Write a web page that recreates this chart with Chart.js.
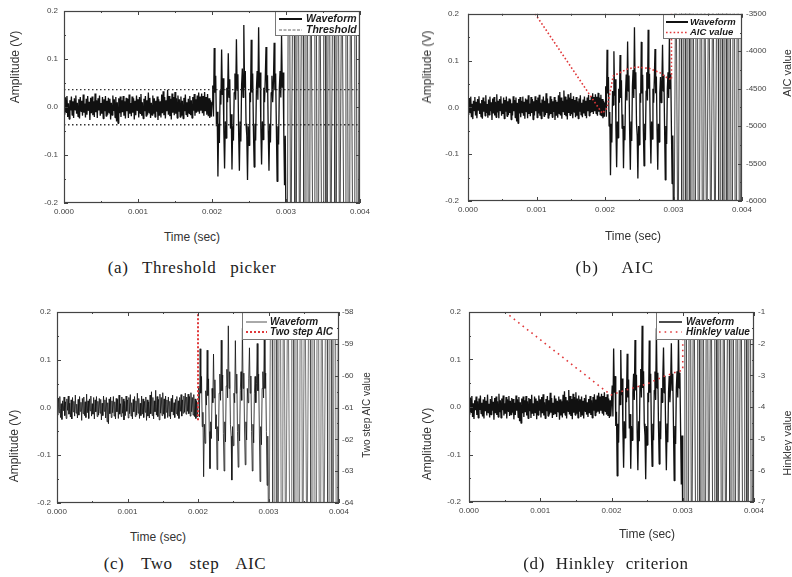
<!DOCTYPE html>
<html><head><meta charset="utf-8">
<script src="https://cdn.jsdelivr.net/npm/chart.js@4.4.1/dist/chart.umd.min.js"></script>
<style>
html,body{margin:0;padding:0;background:#fff;}
#wrap{position:relative;width:792px;height:577px;overflow:hidden;background:#fff;}
canvas{position:absolute;}
.t{position:absolute;white-space:nowrap;font-family:"Liberation Sans",Arial,sans-serif;font-size:12px;color:#333;transform:translate(-50%,-50%);line-height:1;}
.v{transform:translate(-50%,-50%) rotate(-90deg);}
.cap{position:absolute;white-space:nowrap;font-family:"Liberation Serif","Times New Roman",serif;font-size:17px;color:#222;transform:translate(-50%,-50%);word-spacing:5px;letter-spacing:0.6px;line-height:1;}
</style></head>
<body><div id="wrap">
<canvas id="ca" width="396" height="230" style="left:0;top:0"></canvas>
<canvas id="cb" width="396" height="230" style="left:396px;top:0"></canvas>
<canvas id="cc" width="396" height="240" style="left:0;top:290px"></canvas>
<canvas id="cd" width="396" height="240" style="left:396px;top:290px"></canvas>

<div class="t v" style="left:15px;top:67px">Amplitude (V)</div>
<div class="t" style="left:192px;top:237px">Time (sec)</div>
<div class="cap" style="left:192px;top:267px;word-spacing:9px">(a) Threshold picker</div>

<div class="t v" style="left:427px;top:67px">Amplitude (V)</div>
<div class="t" style="left:633px;top:236px">Time (sec)</div>
<div class="t v" style="left:787px;top:73px;font-size:11px">AIC value</div>
<div class="cap" style="left:615px;top:267px;word-spacing:18px;letter-spacing:1.2px">(b) AIC</div>

<div class="t v" style="left:14px;top:446px">Amplitude (V)</div>
<div class="t" style="left:158px;top:537px">Time (sec)</div>
<div class="t v" style="left:367px;top:415px;font-size:10px">Two step AIC value</div>
<div class="cap" style="left:185px;top:563px;word-spacing:12px">(c) Two step AIC</div>

<div class="t v" style="left:427px;top:444px">Amplitude (V)</div>
<div class="t" style="left:647px;top:534px">Time (sec)</div>
<div class="t v" style="left:787px;top:443px;font-size:11px">Hinkley value</div>
<div class="cap" style="left:606px;top:563px;word-spacing:6px">(d) Hinkley criterion</div>
</div>
<script>
// ---------------- data ----------------
const sampleStart = 0;          // s
const sampleInterval = 0.00001; // s
// pre-event noise, 0.0000 - 0.00199 s
const noiseAmp = [
 0.006,-0.016,0.020,-0.011,0.023,-0.021,0.008,-0.025,0.014,-0.007,0.022,-0.017,0.012,-0.023,0.018,-0.006,0.024,-0.014,0.009,-0.020,
 0.016,-0.024,0.021,-0.009,0.013,-0.018,0.026,-0.012,0.007,-0.022,0.017,-0.016,0.023,-0.008,0.011,-0.027,0.019,-0.013,0.022,-0.017,
 0.012,-0.021,0.028,-0.011,0.014,-0.023,0.018,-0.007,0.024,-0.018,0.008,-0.014,0.021,-0.024,0.016,-0.009,0.023,-0.019,0.013,-0.016,
 0.019,-0.012,0.017,-0.026,0.009,-0.017,0.024,-0.008,0.016,-0.022,0.021,-0.030,0.010,-0.034,0.018,-0.013,0.022,-0.021,0.014,-0.011,
 0.023,-0.018,0.012,-0.024,0.019,-0.009,0.017,-0.023,0.026,-0.014,0.008,-0.019,0.022,-0.012,0.018,-0.026,0.013,-0.017,0.024,-0.008,
 0.016,-0.022,0.021,-0.013,0.027,-0.018,0.010,-0.024,0.017,-0.009,0.023,-0.019,0.014,-0.016,0.030,-0.012,0.019,-0.023,0.009,-0.017,
 0.024,-0.014,0.018,-0.021,0.013,-0.010,0.022,-0.027,0.016,-0.018,0.012,-0.022,0.026,-0.013,0.033,-0.017,0.021,-0.024,0.014,-0.009,
 0.036,-0.016,0.023,-0.019,0.017,-0.026,0.028,-0.012,0.021,-0.017,0.031,-0.014,0.018,-0.023,0.024,-0.010,0.016,-0.021,0.022,-0.018,
 0.013,-0.024,0.019,-0.009,0.026,-0.016,0.010,-0.021,0.017,-0.013,0.023,-0.017,0.014,-0.023,0.021,-0.008,0.027,-0.018,0.016,-0.012,
 0.024,-0.010,0.030,-0.014,0.022,-0.008,0.028,-0.013,0.023,-0.018,0.031,-0.009,0.021,-0.016,0.027,-0.019,0.018,-0.023,0.014,-0.020
];
// burst, 0.00200 - 0.00299 s
const burstAmp = [
 0.010,0.045,-0.020,0.123,0.030,0.065,-0.040,-0.010,-0.145,-0.035,
 -0.075,0.035,0.005,0.120,0.025,0.060,-0.050,-0.128,-0.030,-0.065,
 0.040,0.010,0.112,0.020,0.058,-0.045,-0.015,-0.130,-0.040,-0.070,
 0.030,0.070,0.015,0.141,0.035,0.068,-0.055,-0.133,-0.030,-0.072,
 0.045,0.080,0.020,0.171,0.040,0.075,-0.035,-0.060,-0.152,-0.040,
 -0.080,0.030,0.010,0.140,0.030,0.070,-0.050,-0.125,-0.035,-0.070,
 0.035,0.075,0.015,0.166,0.040,0.072,-0.045,-0.120,-0.030,-0.068,
 0.040,0.010,0.060,0.125,0.030,0.066,-0.050,-0.133,-0.035,-0.074,
 0.030,0.065,0.010,0.050,0.134,0.035,0.070,-0.045,-0.155,-0.040,
 -0.078,0.040,0.075,0.020,0.150,0.040,0.072,-0.050,-0.163,-0.060
];
// clipped (over-range) part, 0.00300 - 0.00400 s
const clippedAmp = [
 -0.25,-0.25,-0.25,
 0.25,0.25,0.25,-0.25,-0.25,-0.25, 0.25,0.25,0.25,-0.25,-0.25,-0.25,
 0.25,0.25,0.25,-0.25,-0.25,-0.25, 0.25,0.25,0.25,-0.25,-0.25,-0.25,
 0.25,0.25,0.25,-0.25,-0.25,-0.25, 0.25,0.25,0.25,-0.25,-0.25,-0.25,
 0.25,0.25,0.25,-0.25,-0.25,-0.25, 0.25,0.25,0.25,-0.25,-0.25,-0.25,
 0.25,0.25,0.25,-0.25,-0.25,-0.25, 0.25,0.25,0.25,-0.25,-0.25,-0.25,
 0.25,0.25,0.25,-0.25,-0.25,-0.25, 0.25,0.25,0.25,-0.25,-0.25,-0.25,
 0.25,0.25,0.25,-0.25,-0.25,-0.25, 0.25,0.25,0.25,-0.25,-0.25,-0.25,
 0.25,0.25,0.25,-0.25,-0.25,-0.25, 0.25,0.25,0.25,-0.25,-0.25,-0.25,
 0.25,0.25
];
const clipStart = 0.003; // s, start of over-range part
const thresholdLevels = [0.036, -0.037];
const aicTime  = [0.00098, 0.00196, 0.00203, 0.00212, 0.00232, 0.00246, 0.00265, 0.00280, 0.00290, 0.00297, 0.00297];
const aicValue = [-3500, -4830, -4760, -4330, -4240, -4210, -4230, -4285, -4350, -4380, -3450];
const twoStepTime  = [0.002, 0.002];
const twoStepValue = [-61.4, -58];
const hinkleyTime  = [0.000505, 0.00199, 0.00221, 0.00250, 0.00273, 0.00292, 0.00300, 0.00300];
const hinkleyValue = [-1.0, -3.62, -3.46, -3.27, -3.04, -2.885, -2.84, -1.0];

// ---------------- helpers ----------------
const waveAmp = noiseAmp.concat(burstAmp, clippedAmp);
function wavePoints(){ return waveAmp.map((v,i)=>({x: sampleStart + i*sampleInterval, y: v})); }
function pairs(xs, ys){ return xs.map((x,i)=>({x, y: ys[i]})); }

Chart.defaults.font.family = '"Liberation Sans", Arial, sans-serif';
const tickFont = {size: 8};
const tickColor = '#444';
const RED = '#e0383a';

const originFrame = {
  id: 'originFrame',
  afterDatasetsDraw(chart, args, o) {
    const ctx = chart.ctx, a = chart.chartArea;
    ctx.save();
    if (o.legend) {
      const L = o.legend;
      const x0 = Math.round(a.right - L.width), y0 = Math.round(a.top);
      ctx.fillStyle = '#fff';
      ctx.fillRect(x0, y0, L.width, L.height);
      ctx.strokeStyle = '#777'; ctx.lineWidth = 1;
      ctx.strokeRect(x0 + 0.5, y0 + 0.5, L.width - 1, L.height - 1);
      ctx.font = 'italic bold ' + L.fontSize + 'px "Liberation Sans", Arial, sans-serif';
      ctx.textBaseline = 'middle'; ctx.textAlign = 'left';
      let row = 0;
      chart.data.datasets.forEach(ds => {
        if (!ds.inLegend) return;
        const y = y0 + L.rowY[row];
        ctx.save();
        ctx.strokeStyle = ds.legendColor || ds.borderColor;
        ctx.lineWidth = ds.legendWidth || ds.borderWidth;
        ctx.setLineDash(ds.legendDash || ds.borderDash || []);
        ctx.beginPath(); ctx.moveTo(x0 + L.lineX[0], y); ctx.lineTo(x0 + L.lineX[1], y); ctx.stroke();
        ctx.restore();
        ctx.fillStyle = '#1a1a1a';
        ctx.fillText(ds.label, x0 + L.textX, y);
        row++;
      });
    }
    // frame
    ctx.strokeStyle = '#444'; ctx.lineWidth = 1.2;
    ctx.strokeRect(Math.round(a.left)+0.5, Math.round(a.top)+0.5, Math.round(a.right-a.left)-1, Math.round(a.bottom-a.top)-1);
    // inward ticks, major + minor
    ctx.lineWidth = 1;
    const marks = (scale) => {
      const major = scale.ticks.map(t => t.value);
      const step = major[1] - major[0];
      const out = [];
      major.forEach((v, i) => { out.push([scale.getPixelForValue(v), 4]); if (i < major.length - 1) out.push([scale.getPixelForValue(v + step/2), 2]); });
      return out;
    };
    const xs = chart.scales.x, yl = chart.scales.y, yr = chart.scales.y2 || chart.scales.y;
    ctx.beginPath();
    marks(xs).forEach(([p, l]) => { const px = Math.round(p)+0.5; ctx.moveTo(px, a.bottom); ctx.lineTo(px, a.bottom - l); ctx.moveTo(px, a.top); ctx.lineTo(px, a.top + l); });
    marks(yl).forEach(([p, l]) => { const py = Math.round(p)+0.5; ctx.moveTo(a.left, py); ctx.lineTo(a.left + l, py); });
    marks(yr).forEach(([p, l]) => { const py = Math.round(p)+0.5; ctx.moveTo(a.right, py); ctx.lineTo(a.right - l, py); });
    ctx.stroke();
    ctx.restore();
  }
};

function makeChart(id, c) {
  const scales = {
    x: { type: 'linear', min: 0, max: 0.004,
         afterFit: s => { s.height = 20; },
         ticks: { stepSize: 0.001, padding: 4, font: tickFont, color: tickColor, maxRotation: 0, autoSkip: false, callback: v => v.toFixed(3) },
         grid: { display: false, drawTicks: false }, border: { display: false } },
    y: { type: 'linear', position: 'left', min: -0.2, max: 0.2,
         afterFit: s => { s.width = c.yl; },
         ticks: { stepSize: 0.1, padding: c.ylPad, font: tickFont, color: tickColor, callback: v => v.toFixed(1) },
         grid: { display: false, drawTicks: false }, border: { display: false } }
  };
  if (c.y2) {
    scales.y2 = { type: 'linear', position: 'right', min: c.y2.min, max: c.y2.max,
         afterFit: s => { s.width = c.yr; },
         ticks: { stepSize: c.y2.step, padding: c.y2.pad, font: tickFont, color: tickColor, callback: v => String(v) },
         grid: { display: false, drawTicks: false }, border: { display: false } };
  }
  return new Chart(document.getElementById(id), {
    type: 'line',
    data: { datasets: c.datasets },
    options: {
      responsive: false, animation: false, events: [],
      layout: { padding: c.pad },
      elements: { point: { radius: 0 }, line: { tension: 0, borderJoinStyle: 'bevel' } },
      scales,
      plugins: { legend: { display: false }, tooltip: { enabled: false }, originFrame: { legend: c.legend } }
    },
    plugins: [originFrame]
  });
}

function waveDs(width, clipWidth, lw, lc) {
  return { label: 'Waveform', inLegend: true, data: wavePoints(), borderColor: '#111', borderWidth: width,
           segment: { borderWidth: s => (s.p0.parsed.x >= clipStart + sampleInterval ? clipWidth : undefined),
                      borderColor: s => (s.p0.parsed.x >= clipStart + sampleInterval ? '#333' : undefined) },
           legendWidth: lw, legendColor: lc, yAxisID: 'y', order: 1 };
}

// (a) Threshold picker
makeChart('ca', {
  pad: { top: 11, right: 36, bottom: 7, left: 0 }, yl: 64, ylPad: 6,
  legend: { width: 85, height: 25, fontSize: 10.5, rowY: [8, 19], lineX: [4, 27], textX: 31 },
  datasets: [
    waveDs(1.3, 0.9, 2, '#111'),
    { label: 'Threshold', inLegend: true, data: pairs([0, 0.004], [thresholdLevels[0], thresholdLevels[0]]), borderColor: '#333', borderWidth: 1.3, borderDash: [1.5, 2.5], legendDash: [3, 1.5], legendColor: '#666', legendWidth: 1, yAxisID: 'y' },
    { label: '', data: pairs([0, 0.004], [thresholdLevels[1], thresholdLevels[1]]), borderColor: '#333', borderWidth: 1.3, borderDash: [1.5, 2.5], yAxisID: 'y' }
  ]
});

// (b) AIC
makeChart('cb', {
  pad: { top: 10, right: 0, bottom: 9, left: 0 }, yl: 72, ylPad: 9, yr: 50,
  y2: { min: -6000, max: -3500, step: 500, pad: 4 },
  legend: { width: 79, height: 25, fontSize: 9.5, rowY: [8, 18.5], lineX: [3, 25], textX: 27 },
  datasets: [
    waveDs(1.3, 0.9, 2, '#111'),
    { label: 'AIC value', inLegend: true, data: pairs(aicTime, aicValue), borderColor: RED, borderWidth: 1.6, borderDash: [1.6, 2.2], yAxisID: 'y2' }
  ]
});

// (c) Two step AIC
makeChart('cc', {
  pad: { top: 22, right: 0, bottom: 7, left: 0 }, yl: 57, ylPad: 6, yr: 57,
  y2: { min: -64, max: -58, step: 1, pad: 3 },
  legend: { width: 97, height: 28, fontSize: 10, rowY: [10, 20], lineX: [4, 25], textX: 28 },
  datasets: [
    waveDs(0.8, 0.7, 1, '#555'),
    { label: 'Two step AIC', inLegend: true, data: pairs(twoStepTime, twoStepValue), borderColor: RED, borderWidth: 2, borderDash: [2, 2], yAxisID: 'y2' }
  ]
});

// (d) Hinkley criterion
makeChart('cd', {
  pad: { top: 22, right: 0, bottom: 8, left: 0 }, yl: 73, ylPad: 8, yr: 38,
  y2: { min: -7, max: -1, step: 1, pad: 4 },
  legend: { width: 98, height: 28, fontSize: 10, rowY: [10, 20], lineX: [3, 26], textX: 30 },
  datasets: [
    waveDs(1.3, 0.9, 1.5, '#111'),
    { label: 'Hinkley value', inLegend: true, data: pairs(hinkleyTime, hinkleyValue), borderColor: RED, borderWidth: 1.6, borderDash: [1.6, 4], yAxisID: 'y2' }
  ]
});
</script>
</body></html>
